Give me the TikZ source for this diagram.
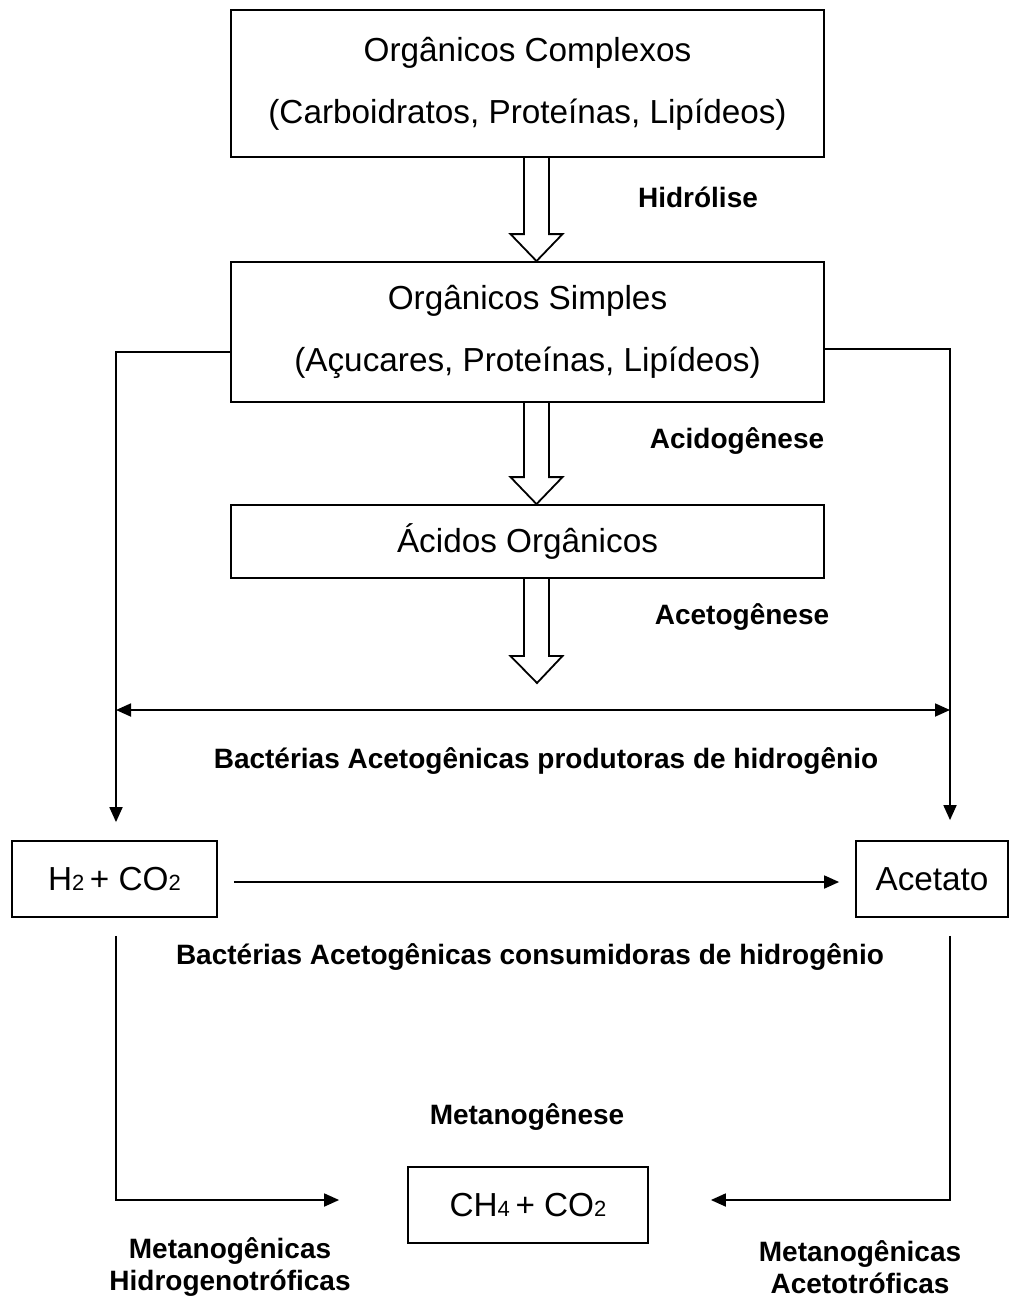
\documentclass[tikz,border=0pt]{standalone}
\usepackage{fontspec}
\setmainfont{Liberation Sans}
\usetikzlibrary{positioning, calc, arrows.meta}

\newcommand{\sbs}[1]{{\fontsize{22}{22}\selectfont #1}}
\newcommand{\hollowarrow}[2]{%
	\draw[hollow] let \p1=(#1), \p2=(#2) in
		(\x1-12.5pt,\y1) -- (\x1-12.5pt,\y2+27pt) -- (\x1-26pt,\y2+27pt) -- (\x2,\y2)
		-- (\x1+26pt,\y2+27pt) -- (\x1+12.5pt,\y2+27pt) -- (\x1+12.5pt,\y1);
}

\begin{document}
\begin{tikzpicture}[x=1pt,y=-1pt,
		box/.style={draw, line width=1.8pt, align=center, inner sep=0pt,
			font=\fontsize{33.3}{62}\selectfont},
		lbl/.style={font=\fontsize{28}{32}\selectfont\bfseries, align=center},
		conn/.style={line width=1.8pt, -{Triangle[length=15pt,width=13pt]}},
		hollow/.style={line width=1.8pt, line join=miter}
	]
					\useasboundingbox (0,0) rectangle (1009,1300);

					\node[box, minimum width=593pt, minimum height=147pt] (cplx) at (527.5,83.5)
						{Orgânicos Complexos\\(Carboidratos, Proteínas, Lipídeos)};
					\node[box, minimum width=593pt, minimum height=140pt] (simp) at (527.5,332)
						{Orgânicos Simples\\(Açucares, Proteínas, Lipídeos)};
					\node[box, minimum width=593pt, minimum height=73pt] (acid) at (527.5,541.5)
						{Ácidos Orgânicos};

					\node[box, minimum width=205pt, minimum height=76pt] (h2) at (114.5,879)
						{H\sbs{2}\,+ CO\sbs{2}};
					\node[box, minimum width=152pt, minimum height=76pt] (acet) at (932,879)
						{Acetato};
					\node[box, minimum width=240pt, minimum height=76pt] (ch4) at (528,1205)
						{CH\sbs{4}\,+ CO\sbs{2}};

					\node[lbl] (hidro) at (698,197) {Hidrólise};
					\node[lbl] (acido) at (737,441) {Acidogênese};
					\node[lbl] (aceto) at (742,617) {Acetogênese};
					\node[lbl] (prod) at (546,761) {Bactérias Acetogênicas produtoras de hidrogênio};
					\node[lbl] (cons) at (530,957) {Bactérias Acetogênicas consumidoras de hidrogênio};
					\node[lbl] (metano) at (527,1117) {Metanogênese};
					\node[lbl] (hidrog) at (230,1267) {Metanogênicas\\Hidrogenotróficas};
					\node[lbl] (acetot) at (860,1267) {Metanogênicas\\Acetotróficas};

					\coordinate (tip) at (537,683);
					\coordinate (bl) at (116,710);
					\coordinate (br) at (950,710);

					% big hollow arrows
					\hollowarrow{[xshift=9pt]cplx.south}{[xshift=9pt]simp.north}
					\hollowarrow{[xshift=9pt]simp.south}{[xshift=9pt]acid.north}
					\hollowarrow{[xshift=9pt]acid.south}{tip}

					\draw[conn] ([yshift=-20pt]simp.west) -| ([xshift=1.5pt]h2.north) [shorten >=18pt];
					\draw[conn, shorten >=20pt] ([yshift=-17pt]simp.east) -| ([xshift=18pt]acet.north);
					\draw[conn, {Triangle[length=15pt,width=13pt]}-{Triangle[length=15pt,width=13pt]}] (bl) -- (br);

					\draw[conn, shorten <=16pt, shorten >=16pt] ([yshift=-3pt]h2.east) -- ([yshift=-3pt]acet.west);

					\draw[conn, shorten >=68pt] ([xshift=1.5pt,yshift=-18pt]h2.south) |- ([yshift=5pt]ch4.west);
					\draw[conn, shorten >=62pt] ([xshift=18pt,yshift=-18pt]acet.south) |- ([yshift=5pt]ch4.east);
				\end{tikzpicture}
\end{document}
